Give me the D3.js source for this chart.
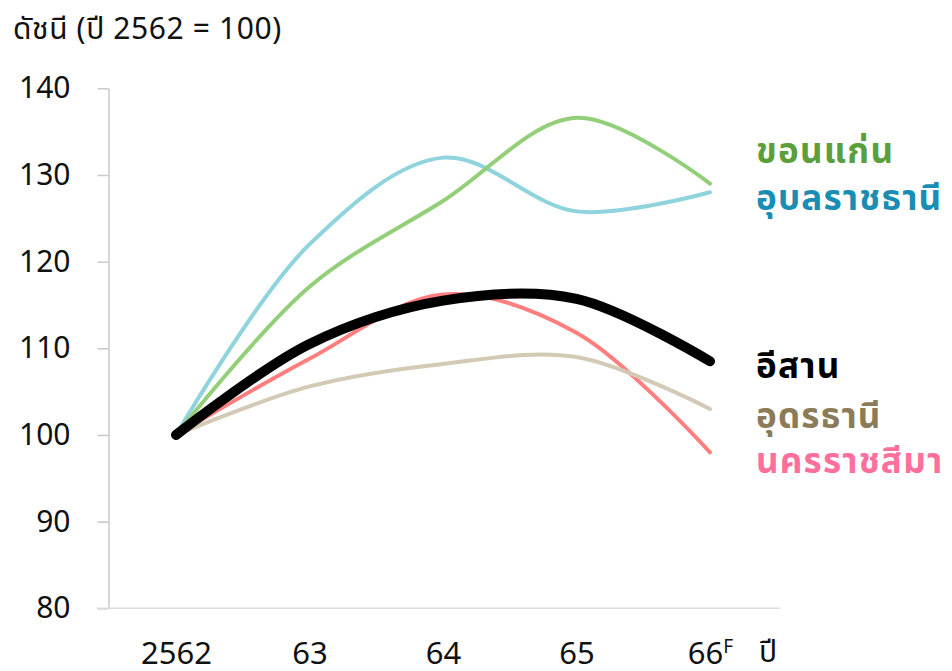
<!DOCTYPE html>
<html>
<head>
<meta charset="utf-8">
<script src="https://cdn.jsdelivr.net/npm/d3@7"></script>
<style>
  body { margin: 0; background: #fff; }
  svg { display: block; font-family: "Noto Sans Thai", "Noto Sans", sans-serif; }
</style>
</head>
<body>
<svg id="chart" width="952" height="671"></svg>
<script>
const categories = ["2562", "63", "64", "65", "66"];
const categorySuffix = ["", "", "", "", "F"];
const yTicks = [80, 90, 100, 110, 120, 130, 140];

const names = ["นครราชสีมา", "อุดรธานี", "อุบลราชธานี", "ขอนแก่น", "อีสาน"];
const khonKaen   = [100, 117.1, 127.0, 136.6, 129.0];
const ubon       = [100, 122.0, 132.0, 125.8, 128.0];
const isan       = [100, 110.5, 115.5, 115.7, 108.5];
const korat      = [100, 108.8, 116.2, 111.8, 98.0];
const udon       = [100, 105.6, 108.2, 109.0, 103.0];

const lineColors  = ["#ff7f7f", "#d3cab6", "#8fd3dd", "#92cf78", "#000000"];
const labelColors = ["#ff6f9c", "#8b7b57", "#198db3", "#5a9f3c", "#000000"];
const seriesValues = [korat, udon, ubon, khonKaen, isan];
const labelY = [473, 428, 210, 163, 378];

const svg = d3.select("#chart");
const x = d3.scalePoint().domain(categories).range([176, 710]);
const y = d3.scaleLinear().domain([80, 140]).range([608.3, 88.3]);

const numFont = "'Noto Sans', sans-serif";

// Y axis
const yAxis = svg.append("g")
  .attr("transform", "translate(108.5,0)")
  .call(d3.axisLeft(y).tickValues(yTicks).tickSize(11).tickPadding(27).tickSizeOuter(0));
yAxis.select(".domain").attr("stroke", "#c8c8c8").attr("stroke-width", 1.5);
yAxis.selectAll(".tick line").attr("stroke", "#c8c8c8").attr("stroke-width", 1.5);
yAxis.selectAll(".tick text").attr("font-size", 30).attr("fill", "#111")
  .style("font-family", numFont);

// X axis baseline
svg.append("line")
  .attr("x1", 97).attr("x2", 780)
  .attr("y1", y(80)).attr("y2", y(80))
  .attr("stroke", "#dcdcdc").attr("stroke-width", 1.5);

const xAxis = svg.append("g")
  .attr("transform", `translate(0,${y(80)})`)
  .call(d3.axisBottom(x).tickSize(0).tickPadding(34));
xAxis.select(".domain").remove();
xAxis.selectAll(".tick text")
  .attr("font-size", 31).attr("fill", "#111")
  .style("font-family", numFont)
  .each(function(d, i) {
    const suf = categorySuffix[i];
    if (suf) {
      const t = d3.select(this);
      t.append("tspan").attr("font-size", 19).attr("dy", -11).text(suf);
    }
  });

// Axis unit label
svg.append("text").attr("x", 759).attr("y", 662)
  .attr("font-size", 30).attr("fill", "#111").text("ปี");

// Title
svg.append("text").attr("x", 13).attr("y", 39)
  .attr("font-size", 30).attr("letter-spacing", 0.6).attr("fill", "#111")
  .text("ดัชนี (ปี 2562 = 100)");

// Lines
const line = d3.line()
  .x((d, i) => x(categories[i]))
  .y(d => y(d))
  .curve(d3.curveCatmullRom.alpha(0.5));

seriesValues.forEach((vals, k) => {
  svg.append("path")
    .datum(vals)
    .attr("d", line)
    .attr("fill", "none")
    .attr("stroke", lineColors[k])
    .attr("stroke-width", k === 4 ? 10 : 4)
    .attr("stroke-linecap", "round")
    .attr("stroke-linejoin", "round");
});

// Series labels
names.forEach((n, k) => {
  svg.append("text")
    .attr("x", 756).attr("y", labelY[k])
    .attr("font-size", 35).attr("font-weight", 700)
    .attr("letter-spacing", 1.2)
    .attr("fill", labelColors[k])
    .text(n);
});
</script>
</body>
</html>
